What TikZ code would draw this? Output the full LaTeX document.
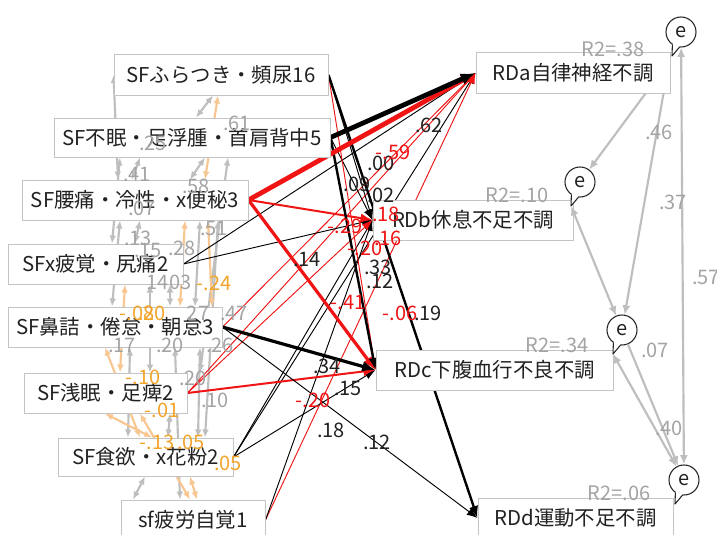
\documentclass[tikz,border=0pt]{standalone}
\usepackage{fontspec}
\setmainfont{Noto Sans CJK JP}
\usetikzlibrary{arrows.meta,calc}
\definecolor{cgray}{HTML}{BEBEBE}
\definecolor{lgray}{HTML}{A4A4A4}
\definecolor{corange}{HTML}{F8C690}
\definecolor{lorange}{HTML}{F2A52A}
\definecolor{cred}{HTML}{F01414}
\definecolor{bxline}{HTML}{C4C4C4}
\definecolor{txt}{HTML}{222222}
\newcommand\ebub[3]{%
  \node[enode] (#1) at (#2,#3) {e};
  \coordinate (#1t) at ($(#1.center)+(-9,24)$);
  \fill[white] ($(#1.center)+(-1.3,14.9)$) -- (#1t) -- ($(#1.center)+(-8.6,12.3)$) -- ($(#1.center)+(-4,9)$) -- cycle;
  \draw[line width=0.8pt,black!85,line join=round] ($(#1.center)+(-1.3,14.9)$) -- (#1t) -- ($(#1.center)+(-8.6,12.3)$);
}
\begin{document}
\begin{tikzpicture}[x=0.75pt,y=-0.75pt,
  box/.style={draw=bxline,line width=0.75pt,fill=white,inner sep=0pt,text=txt,font=\fontsize{15.3}{18}\selectfont},
  enode/.style={circle,draw=black!85,fill=white,line width=0.8pt,minimum size=22.5pt,inner sep=0pt,text=txt,font=\fontsize{15}{18}\selectfont},
  lab/.style={inner sep=0pt,font=\fontsize{15}{17}\selectfont},
  glab/.style={lab,text=lgray},
  olab/.style={lab,text=lorange},
  rlab/.style={lab,text=cred},
  blab/.style={lab,text=txt},
  cov/.style={draw=cgray,line width=1.6pt,{Latex[length=6pt,width=5pt]}-{Latex[length=6pt,width=5pt]}},
  ocov/.style={cov,draw=corange},
  gcon/.style={draw=cgray,line width=1.6pt,-{Latex[length=7pt,width=6pt]}},
  gcon2/.style={draw=cgray,line width=1.6pt,{Latex[length=7pt,width=6pt]}-{Latex[length=7pt,width=6pt]}},
  bt/.style={draw=black,line width=0.7pt,-{Latex[length=8pt,width=6pt]}},
  rt/.style={draw=cred,line width=0.7pt,-{Latex[length=8pt,width=6pt]}},
  bmd/.style={draw=black,line width=1.8pt,-{Latex[length=9pt,width=7pt]}},
  rmd/.style={draw=cred,line width=1.5pt,-{Latex[length=9pt,width=7pt]}},
  bth2/.style={draw=black,line width=2.4pt,-{Latex[length=10pt,width=8pt]}},
  rth2/.style={draw=cred,line width=2.4pt,-{Latex[length=10pt,width=8pt]}},
  bth/.style={draw=black,line width=3.6pt,-{Latex[length=11pt,width=9pt]}},
  rth/.style={draw=cred,line width=3.6pt,-{Latex[length=11pt,width=9pt]}}]
\clip (0,0) rectangle (717,535);
\fill[white] (0,0) rectangle (717,535);
% boxes (nodes first, to have names; redrawn on top later)
\begin{scope}[opacity=0]
\node[box,minimum width=160.5pt,minimum height=30pt] (S1) at (221,75) {};
\node[box,minimum width=207pt,minimum height=29.25pt] (S2) at (192,137.5) {};
\node[box,minimum width=169.5pt,minimum height=30pt] (S3) at (135,200) {};
\node[box,minimum width=131.25pt,minimum height=30pt] (S4) at (95.5,264) {};
\node[box,minimum width=160.5pt,minimum height=30pt] (S5) at (115,327) {};
\node[box,minimum width=122.25pt,minimum height=30pt] (S6) at (105.5,393) {};
\node[box,minimum width=131.25pt,minimum height=28.5pt] (S7) at (145.5,457) {};
\node[box,minimum width=108pt,minimum height=30pt] (S8) at (193,520) {};
\node[box,minimum width=145.5pt,minimum height=30pt] (RDa) at (573,73) {};
\node[box,minimum width=150pt,minimum height=30pt] (RDb) at (473,220) {};
\node[box,minimum width=177.75pt,minimum height=30pt] (RDc) at (494.5,370) {};
\node[box,minimum width=146.25pt,minimum height=30pt] (RDd) at (575.5,518) {};
\end{scope}
% left covariances (gray)
\draw[cov] (S1.west) -- (S3.north -| 118,0);
\draw[cov] (S1.south -| 213,0) -- (S2.north -| 196,0);
\draw[cov] (S2.south -| 120,0) -- (S4.north -| 112,0);
\draw[cov] (S2.south -| 140,0) -- (S3.north -| 132,0);
\draw[cov] (S2.south -| 205,0) -- (S3.north -| 190,0);
\draw[cov] (S2.south -| 228,0) -- (S6.north -| 200,0);
\draw[cov] (S3.south -| 120,0) -- (S5.north -| 112,0);
\draw[cov] (S3.south -| 140,0) -- (S4.north -| 135,0);
\draw[cov] (S3.south -| 200,0) -- (S5.north -| 195,0);
\draw[cov] (S3.south -| 218,0) -- (S7.north -| 205,0);
\draw[cov] (S4.south -| 150,0) -- (S6.north -| 150,0);
\draw[cov] (S4.south -| 170,0) -- (S5.north -| 170,0);
\draw[cov] (S5.south -| 130,0) -- (S7.north -| 128,0);
\draw[cov] (S5.south -| 175,0) -- (S8.north -| 180,0);
\draw[cov] (S5.south -| 200,0) -- (S7.north -| 198,0);
\draw[cov] (S6.south -| 170,0) -- (S7.north -| 168,0);
\draw[cov] (S8.north -| 133,0) -- (S7.south -| 145,0);
% left covariances (orange)
\draw[ocov] (S1.south -| 218,0) -- (S3.north -| 205,0);
\draw[ocov] (S3.south -| 185,0) -- (S5.north -| 180,0);
\draw[ocov] (S3.south -| 208,0) -- (S5.north -| 212,0);
\draw[ocov] (S4.south -| 125,0) -- (S6.north -| 120,0);
\draw[ocov] (S5.south -| 105,0) -- (S7.north -| 140,0);
\draw[ocov] (S6.south -| 105,0) -- (S7.north -| 152,0);
\draw[ocov] (S6.south -| 140,0) -- (S8.north -| 190,0);
\draw[ocov] (S7.south -| 190,0) -- (S8.north -| 197,0);
% paths to RDa
\draw[bt] (S4.east) -- (RDa.west);
\draw[bt] (S7.east) -- (RDa.west);
\draw[rt] (S5.east) -- (RDa.west);
\draw[rt] (S6.east) -- (RDa.west);
\draw[rt] (S8.east) -- (RDa.west);
% paths to RDb
\draw[bt] (S1.east) -- (RDb.west);
\draw[bt] (S2.east) -- (RDb.west);
\draw[bt] (S4.east) -- (RDb.west);
\draw[bt] (S7.east) -- (RDb.west);
\draw[bt] (S8.east) -- (RDb.west);
\draw[rt] (S6.east) -- (RDb.west);
\draw[rmd] (S3.east) -- (RDb.west);
% paths to RDc
\draw[rt] (S1.east) -- (RDc.west);
\draw[bt] (S7.east) -- (RDc.west);
\draw[rmd] (S6.east) -- (RDc.west);
\draw[rth2] (S3.east) -- (RDc.west);
\draw[bmd] (S2.east) -- (RDc.west);
\draw[bth2] (S5.east) -- (RDc.west);
% paths to RDd
\draw[bt] (S5.east) -- (RDd.west);
\draw[bmd] (S1.east) -- (RDd.west);
% thick paths to RDa
\draw[rth] (S3.east) -- (RDa.west);
\draw[bth] (S2.east) -- (RDa.west);
% boxes
\node[box,minimum width=160.5pt,minimum height=30pt] at (S1) {SFふらつき・頻尿16};
\node[box,minimum width=207pt,minimum height=29.25pt] at (S2) {SF不眠・足浮腫・首肩背中5};
\node[box,minimum width=169.5pt,minimum height=30pt] at (S3) {SF腰痛・冷性・x便秘3};
\node[box,minimum width=131.25pt,minimum height=30pt] at (S4) {SFx疲覚・尻痛2};
\node[box,minimum width=160.5pt,minimum height=30pt] at (S5) {SF鼻詰・倦怠・朝怠3};
\node[box,minimum width=122.25pt,minimum height=30pt] at (S6) {SF浅眠・足痺2};
\node[box,minimum width=131.25pt,minimum height=28.5pt] at (S7) {SF食欲・x花粉2};
\node[box,minimum width=108pt,minimum height=30pt] at (S8) {sf疲労自覚1};
\node[box,minimum width=145.5pt,minimum height=30pt] at (RDa) {RDa自律神経不調};
\node[box,minimum width=150pt,minimum height=30pt] at (RDb) {RDb休息不足不調};
\node[box,minimum width=177.75pt,minimum height=30pt] at (RDc) {RDc下腹血行不良不調};
\node[box,minimum width=146.25pt,minimum height=30pt] at (RDd) {RDd運動不足不調};
% error bubbles
\ebub{ea}{681}{32}
\ebub{eb}{580}{182}
\ebub{ec}{622}{330}
\ebub{ed}{684}{480}
% right connectors
\draw[gcon] ($(RDa.south east)+(-25,0)$) -- (eb);
\draw[gcon] ($(RDa.south east)+(-7,0)$) -- (ec);
\draw[gcon2] (ea) -- (ed);
\draw[gcon2] (ec) -- (ebt);
\draw[gcon] (ec) -- (ed);
\draw[gcon2] (ect) -- (ed);
% labels: gray
\node[glab] (g1) at (237,123) {.61};
\node[glab] (g2) at (153,143) {.25};
\node[glab] (g3) at (137,174) {.41};
\node[glab] (g4) at (196,186) {.58};
\node[glab] (g5) at (142,208) {.07};
\node[glab] (g6) at (214,228) {.51};
\node[glab] (g7) at (138,238) {.13};
\node[glab] (g8) at (148,250) {.15};
\node[glab] (g9) at (182,248) {.28};
\node[glab] (g10) at (169,282) {1403};
\node[glab] (g11) at (198,313) {27};
\node[glab] (g12) at (234,313) {.47};
\node[glab] (g13) at (122,345) {.17};
\node[glab] (g14) at (170,345) {.20};
\node[glab] (g15) at (220,345) {.26};
\node[glab] (g16) at (193,378) {.20};
\node[glab] (g17) at (215,400) {.10};
% labels: orange
\node[olab] (o1) at (214,283) {-.24};
\node[olab] (o2) at (137,313) {-.08};
\node[olab] (o3) at (152,313) {.20};
\node[olab] (o4) at (143,377) {-.10};
\node[olab] (o5) at (162,410) {-.01};
\node[olab] (o6) at (157,442) {-.13};
\node[olab] (o7) at (191,442) {.05};
\node[olab] (o8) at (228,463) {.05};
% labels: black
\node[blab] (b1) at (381,163) {.00};
\node[blab] (b2) at (429,125) {.62};
\node[blab] (b3) at (357,184) {.09};
\node[blab] (b4) at (381,195) {.02};
\node[blab] (b5) at (378,267) {.33};
\node[blab] (b6) at (380,281) {.12};
\node[blab] (b7) at (428,313) {.19};
\node[blab] (b8) at (307,259) {.14};
\node[blab] (b9) at (327,366) {.34};
\node[blab] (b10) at (348,388) {.15};
\node[blab] (b11) at (331,430) {.18};
\node[blab] (b12) at (377,442) {.12};
% labels: red
\node[rlab] (r1) at (393,152) {-.59};
\node[rlab] (r2) at (386,214) {.18};
\node[rlab] (r3) at (345,226) {-.29};
\node[rlab] (r4) at (388,238) {.16};
\node[rlab] (r5) at (365,248) {-.20};
\node[rlab] (r6) at (348,302) {-.41};
\node[rlab] (r7) at (400,313) {-.06};
\node[rlab] (r8) at (313,400) {-.20};
% labels: right
\node[glab] (q1) at (613,49) {R2=.38};
\node[glab] (q2) at (517,195) {R2=.10};
\node[glab] (q3) at (557,345) {R2=.34};
\node[glab] (q4) at (619,493) {R2=.06};
\node[glab] (q5) at (659,132) {.46};
\node[glab] (q6) at (673,202) {.37};
\node[glab] (q7) at (706,277) {.57};
\node[glab] (q8) at (655,350) {.07};
\node[glab] (q9) at (669,428) {.40};
\end{tikzpicture}
\end{document}
